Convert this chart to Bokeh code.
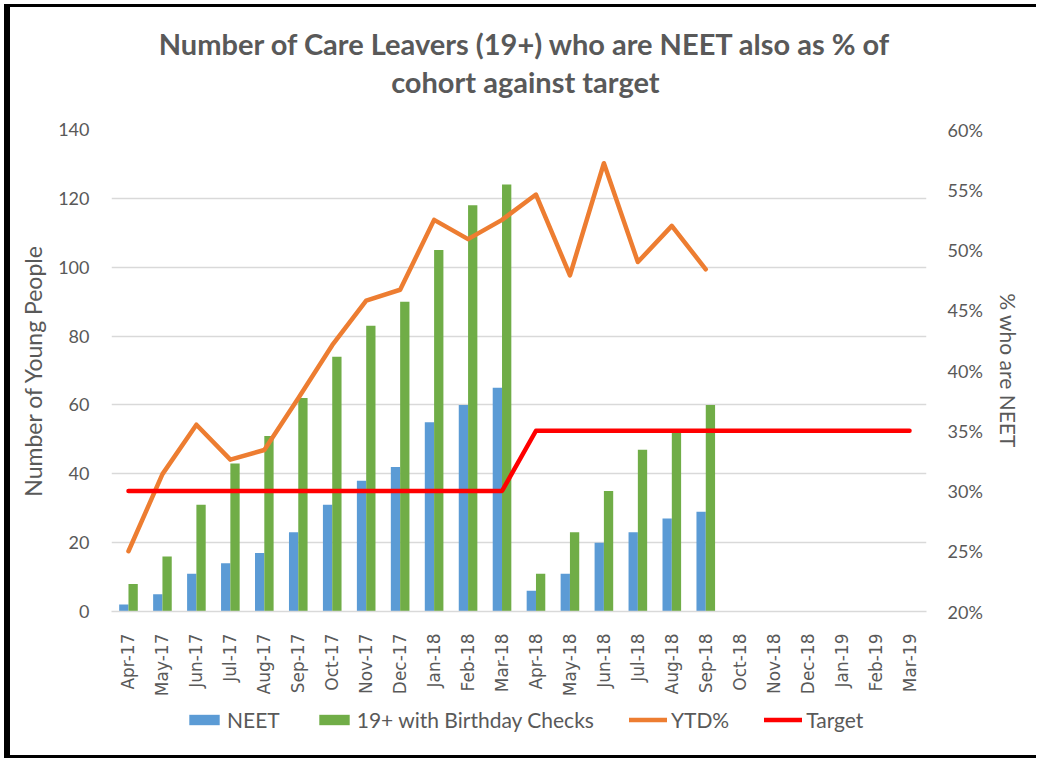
from bokeh.plotting import figure
from bokeh.models import (Range1d, LinearAxis, FixedTicker, NumeralTickFormatter,
                          Legend, LegendItem, Label, ColumnDataSource, FactorRange)
from bokeh.layouts import column
from bokeh.transform import dodge
from bokeh.embed import file_html
from bokeh.resources import INLINE
import math

months = ["Apr-17", "May-17", "Jun-17", "Jul-17", "Aug-17", "Sep-17", "Oct-17", "Nov-17",
          "Dec-17", "Jan-18", "Feb-18", "Mar-18", "Apr-18", "May-18", "Jun-18", "Jul-18",
          "Aug-18", "Sep-18", "Oct-18", "Nov-18", "Dec-18", "Jan-19", "Feb-19", "Mar-19"]
data_months = months[:18]
neet = [2, 5, 11, 14, 17, 23, 31, 38, 42, 55, 60, 65, 6, 11, 20, 23, 27, 29]
birthday_checks = [8, 16, 31, 43, 51, 62, 74, 83, 90, 105, 118, 124, 11, 23, 35, 47, 52, 60]
ytd_pct = [0.250, 0.314, 0.355, 0.326, 0.334, 0.377, 0.421, 0.458, 0.467, 0.525, 0.509, 0.525,
           0.546, 0.479, 0.572, 0.490, 0.520, 0.484]
target = [0.30] * 12 + [0.35] * 12
series_names = ["NEET", "19+ with Birthday Checks", "YTD%", "Target"]
title_lines = ["Number of Care Leavers (19+) who are NEET also as % of", "cohort against target"]

TXT = "#595959"
GRID = "#D9D9D9"
FONT = "Lato"
C_NEET, C_BC, C_YTD, C_TGT = "#5B9BD5", "#70AD47", "#ED7D31", "#FF0000"

bars = ColumnDataSource(dict(m=data_months, neet=neet, bc=birthday_checks))

W = 1026
H0 = 103          # title strip
H1 = 590          # chart
H2 = 55           # legend strip

# ---------------- title strip ----------------
hdr = figure(width=W, height=H0, x_range=Range1d(0, W), y_range=Range1d(H0, 0),
             output_backend="svg", toolbar_location=None, x_axis_type=None, y_axis_type=None,
             min_border=0)
hdr.outline_line_color = None
hdr.grid.visible = False
for txt, yy in zip(title_lines, [36, 74]):
    hdr.add_layout(Label(x=521, y=yy, text=txt, text_align="center", text_baseline="middle",
                         text_font=FONT, text_font_size="29px", text_font_style="bold",
                         text_color=TXT))

# ---------------- chart ----------------
p = figure(width=W, height=H1, x_range=months, y_range=Range1d(0, 140),
           output_backend="svg", toolbar_location=None,
           min_border_left=101, min_border_right=W - 916, min_border_top=19,
           min_border_bottom=89)
p.outline_line_color = None
p.background_fill_color = "white"
p.border_fill_color = "white"

p.extra_y_ranges = {"pct": Range1d(0.20, 0.60)}

p.vbar(x=dodge("m", -0.137, range=p.x_range), top="neet", width=0.274, source=bars,
       fill_color=C_NEET, line_color=None)
p.vbar(x=dodge("m", 0.137, range=p.x_range), top="bc", width=0.274, source=bars,
       fill_color=C_BC, line_color=None)
p.line(data_months, ytd_pct, y_range_name="pct", line_color=C_YTD, line_width=4.5,
       line_join="round", line_cap="round")
p.line(months, target, y_range_name="pct", line_color=C_TGT, line_width=4.5,
       line_join="round", line_cap="round")

ya = p.yaxis[0]
ya.ticker = FixedTicker(ticks=list(range(0, 141, 20)))
ya.axis_line_color = None
ya.major_tick_line_color = None
ya.minor_tick_line_color = None
ya.major_label_standoff = 16
ya.major_label_text_font = FONT
ya.major_label_text_font_size = "18px"
ya.major_label_text_color = TXT
ya.axis_label = "Number of Young People"
ya.axis_label_text_font = FONT
ya.axis_label_text_font_style = "normal"
ya.axis_label_text_font_size = "23px"
ya.axis_label_text_color = TXT
ya.axis_label_standoff = 8

ra = LinearAxis(y_range_name="pct", ticker=FixedTicker(ticks=[0.20, 0.25, 0.30, 0.35, 0.40, 0.45, 0.50, 0.55, 0.60]),
                formatter=NumeralTickFormatter(format="0%"))
ra.axis_line_color = None
ra.major_tick_line_color = None
ra.minor_tick_line_color = None
ra.major_label_standoff = 15
ra.major_label_text_font = FONT
ra.major_label_text_font_size = "18px"
ra.major_label_text_color = TXT
ra.axis_label = "% who are NEET"
ra.axis_label_text_font = FONT
ra.axis_label_text_font_style = "normal"
ra.axis_label_text_font_size = "21px"
ra.axis_label_text_color = TXT
ra.axis_label_standoff = 10
p.add_layout(ra, "right")

xa = p.xaxis[0]
xa.axis_line_color = GRID
xa.axis_line_width = 1.5
xa.major_tick_line_color = None
xa.major_label_orientation = math.pi / 2
xa.major_label_standoff = 16
xa.major_label_text_font = "DejaVu Sans"
xa.major_label_text_font_size = "17px"
xa.major_label_text_color = TXT

p.xgrid.grid_line_color = None
p.ygrid.grid_line_color = GRID
p.ygrid.grid_line_width = 1.5

# ---------------- legend strip ----------------
# same series drawn again, but the y window lies above every value so only the legend shows
lg = figure(width=W, height=H2, x_range=FactorRange(factors=months), y_range=Range1d(500, 501),
            output_backend="svg", toolbar_location=None, x_axis_type=None, y_axis_type=None,
            min_border=0)
lg.outline_line_color = None
lg.grid.visible = False
r1 = lg.vbar(x="m", top="neet", width=0.274, source=bars, fill_color=C_NEET, line_color=None)
r2 = lg.vbar(x="m", top="bc", width=0.274, source=bars, fill_color=C_BC, line_color=None)
r3 = lg.line(data_months, ytd_pct, line_color=C_YTD, line_width=4.5, line_cap="round")
r4 = lg.line(months, target, line_color=C_TGT, line_width=4.5, line_cap="round")
legend = Legend(items=[LegendItem(label=n, renderers=[r]) for n, r in zip(series_names, [r1, r2, r3, r4])],
                orientation="horizontal", location=(74, 23),
                label_text_font=FONT, label_text_font_size="21px", label_text_color=TXT,
                glyph_width=38, glyph_height=13, label_standoff=4, spacing=35,
                padding=4, margin=0, border_line_color=None, background_fill_alpha=0)
lg.add_layout(legend, "center")

layout = column(hdr, p, lg, spacing=0,
                styles={"border-left": "6px solid black", "border-top": "3px solid black",
                        "border-bottom": "3px solid black", "margin-left": "4px",
                        "margin-top": "4px"})
open("out.html", "w").write(file_html(layout, INLINE))
